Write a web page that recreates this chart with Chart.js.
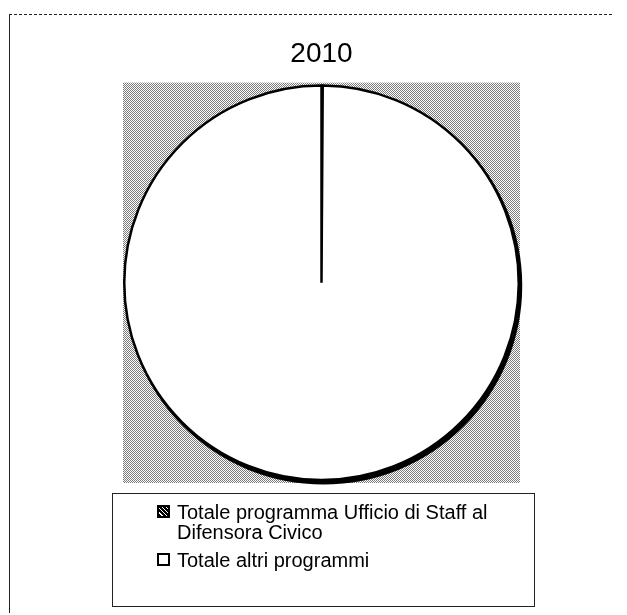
<!DOCTYPE html>
<html>
<head>
<meta charset="utf-8">
<title>2010</title>
<script src="https://cdn.jsdelivr.net/npm/chart.js@4.4.0/dist/chart.umd.min.js"></script>
<style>
  body { margin: 0; background: #fff; }
  #wrap { position: relative; width: 627px; height: 615px; overflow: hidden; }
  #chart { position: absolute; left: 0; top: 0; }
  #frame {
    position: absolute; left: 9px; top: 14px; width: 602px; height: 598px;
    border-top: 1px dashed #222; border-left: 1px solid #222;
  }
  #legendBox {
    position: absolute; left: 112px; top: 493px; width: 423px; height: 114px;
    border: 1px solid #222; box-sizing: border-box;
    font-family: "Liberation Sans", Arial, sans-serif; font-size: 20px; color: #000;
  }
  .item { position: absolute; left: 44px; padding-left: 20px; line-height: 20px; white-space: nowrap; }
  .swatch {
    position: absolute; left: 0; top: 3px; width: 13px; height: 13px;
    box-sizing: border-box; border: 2px solid #000;
  }
</style>
</head>
<body>
<div id="wrap">
  <div id="frame"></div>
  <canvas id="chart" width="627" height="615"></canvas>
  <div id="legendBox"></div>
</div>
<script>
const title = '2010';
const labels = [
  ['Totale programma Ufficio di Staff al', 'Difensora Civico'],
  'Totale altri programmi'
];
const values = [0.1, 99.9];
const sliceColors = ['#1a1a1a', '#ffffff'];

// dotted grey texture behind the pie
function makeTexture() {
  const tile = document.createElement('canvas');
  tile.width = 4; tile.height = 4;
  const t = tile.getContext('2d');
  t.fillStyle = '#fff';
  t.fillRect(0, 0, 4, 4);
  t.fillStyle = '#7a7a7a';
  for (let i = 0; i < 4; i++) {
    t.fillRect(i, i % 4, 1, 1);
    t.fillRect(i, (i + 2) % 4, 1, 1);
  }
  return tile;
}

const areaFill = {
  id: 'areaFill',
  beforeDraw(chart) {
    const { ctx, chartArea } = chart;
    ctx.save();
    ctx.fillStyle = ctx.createPattern(makeTexture(), 'repeat');
    ctx.fillRect(chartArea.left, chartArea.top, chartArea.right - chartArea.left, chartArea.bottom - chartArea.top);
    ctx.restore();
  }
};

// heavy dark edge on the lower right of the pie, taken from the arc geometry
const pieShadow = {
  id: 'pieShadow',
  beforeDatasetsDraw(chart) {
    const arc = chart.getDatasetMeta(0).data[0];
    if (!arc) return;
    const c = chart.ctx;
    c.save();
    c.fillStyle = '#000';
    c.beginPath();
    c.arc(arc.x + 2, arc.y + 3, arc.outerRadius + 1.5, 0, Math.PI * 2);
    c.fill();
    c.restore();
  }
};

new Chart(document.getElementById('chart'), {
  type: 'pie',
  data: {
    labels: labels,
    datasets: [{
      data: values,
      backgroundColor: sliceColors,
      borderColor: '#000',
      borderWidth: 2.5
    }]
  },
  options: {
    responsive: false,
    animation: false,
    layout: { padding: { top: 37, left: 123, right: 107, bottom: 132 } },
    plugins: {
      legend: { display: false },
      tooltip: { enabled: false },
      title: {
        display: true,
        text: title,
        color: '#000',
        font: { family: '"Liberation Sans", Arial, sans-serif', size: 28, weight: 'normal', lineHeight: 1.2 },
        padding: { top: 0, bottom: 12 }
      }
    }
  },
  plugins: [areaFill, pieShadow]
});

// legend list under the pie
const box = document.getElementById('legendBox');
const tops = [8, 56];
labels.forEach(function(lab, i) {
  const item = document.createElement('div');
  item.className = 'item';
  item.style.top = tops[i] + 'px';
  const sw = document.createElement('span');
  sw.className = 'swatch';
  if (i === 0) sw.style.background = 'repeating-linear-gradient(45deg, #000 0 2px, #fff 2px 3px)';
  else sw.style.background = '#fff';
  item.appendChild(sw);
  const lines = Array.isArray(lab) ? lab : [lab];
  lines.forEach(function(line, j) {
    if (j > 0) item.appendChild(document.createElement('br'));
    item.appendChild(document.createTextNode(line));
  });
  box.appendChild(item);
});
</script>
</body>
</html>
